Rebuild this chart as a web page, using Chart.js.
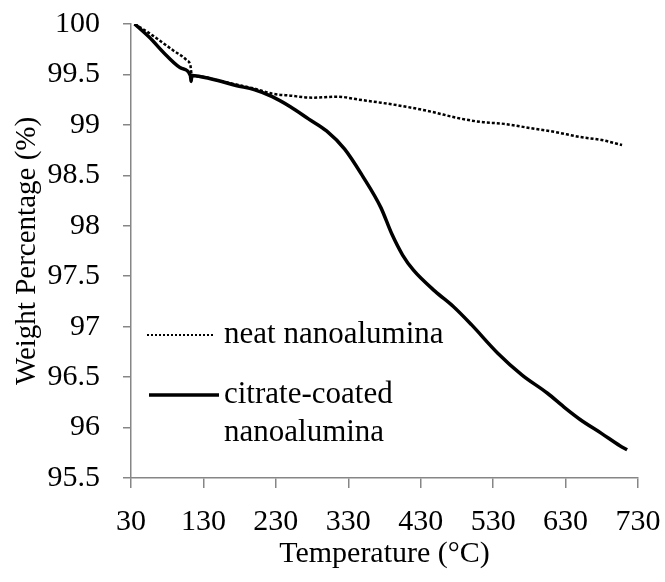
<!DOCTYPE html>
<html>
<head>
<meta charset="utf-8">
<script src="https://cdn.jsdelivr.net/npm/chart.js@4/dist/chart.umd.min.js"></script>
<style>
  html, body { margin: 0; padding: 0; background: #fff; }
  #wrap { position: relative; width: 665px; height: 582px; }
</style>
</head>
<body>
<div id="wrap"><canvas id="tgaChart"></canvas></div>
<script>
// temperatures (°C) and weight (%)
const tempNeat = [35, 55, 88, 107, 112, 114, 125, 150, 175, 200, 225, 250, 280, 315, 345, 375, 410, 445, 480, 512, 545, 580, 615, 650, 680, 708];
const weightNeat = [100.0, 99.91, 99.74, 99.64, 99.59, 99.49, 99.48, 99.44, 99.40, 99.36, 99.31, 99.29, 99.27, 99.28, 99.25, 99.22, 99.18, 99.13, 99.07, 99.03, 99.01, 98.97, 98.93, 98.88, 98.85, 98.80];

const tempCitrate = [35, 55, 80, 100, 112, 113, 114, 125, 150, 175, 200, 225, 250, 275, 300, 325, 350, 375, 390, 405, 420, 450, 475, 500, 536, 570, 605, 630, 650, 680, 705, 715];
const weightCitrate = [100.0, 99.87, 99.68, 99.56, 99.49, 99.43, 99.49, 99.48, 99.44, 99.39, 99.35, 99.28, 99.18, 99.06, 98.94, 98.76, 98.49, 98.18, 97.92, 97.71, 97.56, 97.35, 97.20, 97.02, 96.74, 96.52, 96.34, 96.19, 96.08, 95.94, 95.82, 95.78];

const xTicks = [30, 130, 230, 330, 430, 530, 630, 730];
const yTicks = [95.5, 96, 96.5, 97, 97.5, 98, 98.5, 99, 99.5, 100];

const seriesNames = ['neat nanoalumina', 'citrate-coated nanoalumina'];

const FONT = "'Liberation Serif', 'Times New Roman', serif";
const AXIS = '#868686';

const toPoints = (xs, ys) => xs.map((x, i) => ({ x: x, y: ys[i] }));

// legend drawn inside the plot, lower left
const innerLegend = {
    id: 'innerLegend',
    afterDatasetsDraw(chart) {
        const ctx = chart.ctx;
        ctx.save();
        ctx.strokeStyle = '#000';
        ctx.fillStyle = '#000';
        ctx.font = '31px ' + FONT;
        ctx.textBaseline = 'middle';

        ctx.lineWidth = 2;
        ctx.setLineDash([2, 2]);
        ctx.beginPath();
        ctx.moveTo(147, 335);
        ctx.lineTo(214, 335);
        ctx.stroke();
        ctx.fillText(seriesNames[0], 224, 335);

        ctx.lineWidth = 3.5;
        ctx.setLineDash([]);
        ctx.beginPath();
        ctx.moveTo(149, 395);
        ctx.lineTo(219, 395);
        ctx.stroke();
        const parts = seriesNames[1].split(' ');
        ctx.fillText(parts[0], 224, 395);
        ctx.fillText(parts[1], 224, 433);
        ctx.restore();
    }
};

new Chart(document.getElementById('tgaChart'), {
    type: 'line',
    data: {
        datasets: [
            {
                label: seriesNames[0],
                data: toPoints(tempNeat, weightNeat),
                borderColor: '#000',
                borderWidth: 2.5,
                borderDash: [3, 2],
                pointRadius: 0,
                cubicInterpolationMode: 'monotone',
                fill: false
            },
            {
                label: seriesNames[1],
                data: toPoints(tempCitrate, weightCitrate),
                borderColor: '#000',
                borderWidth: 3.5,
                pointRadius: 0,
                cubicInterpolationMode: 'monotone',
                fill: false
            }
        ]
    },
    options: {
        responsive: true,
        maintainAspectRatio: false,
        animation: false,
        layout: { padding: { top: 24, right: 27, left: 0, bottom: 0 } },
        scales: {
            x: {
                type: 'linear',
                min: 30,
                max: 730,
                afterBuildTicks: (scale) => { scale.ticks = xTicks.map(v => ({ value: v })); },
                afterFit: (scale) => {
                    scale.height = 104;
                    scale.paddingLeft = 0;
                    scale.paddingRight = 0;
                },
                border: { color: AXIS, width: 1.5 },
                grid: { drawOnChartArea: false, drawTicks: true, tickLength: 10, color: AXIS, lineWidth: 1.5 },
                ticks: {
                    color: '#000',
                    padding: 16,
                    maxRotation: 0,
                    font: { family: FONT, size: 30 },
                    callback: (v) => String(v)
                },
                title: {
                    display: true,
                    text: 'Temperature (°C)',
                    color: '#000',
                    font: { family: FONT, size: 30 },
                    padding: { top: 0, bottom: 10 }
                }
            },
            y: {
                min: 95.5,
                max: 100,
                afterBuildTicks: (scale) => { scale.ticks = yTicks.map(v => ({ value: v })); },
                afterFit: (scale) => {
                    scale.width = 131;
                    scale.paddingTop = 0;
                    scale.paddingBottom = 0;
                },
                border: { color: AXIS, width: 1.5 },
                grid: { drawOnChartArea: false, drawTicks: true, tickLength: 8, color: AXIS, lineWidth: 1.5 },
                ticks: {
                    color: '#000',
                    padding: 23,
                    font: { family: FONT, size: 30 },
                    callback: (v) => String(v)
                },
                title: {
                    display: true,
                    text: 'Weight Percentage (%)',
                    color: '#000',
                    font: { family: FONT, size: 29 },
                    padding: { top: 10, bottom: 0 }
                }
            }
        },
        plugins: {
            legend: { display: false },
            tooltip: { enabled: false }
        }
    },
    plugins: [innerLegend]
});
</script>
</body>
</html>
